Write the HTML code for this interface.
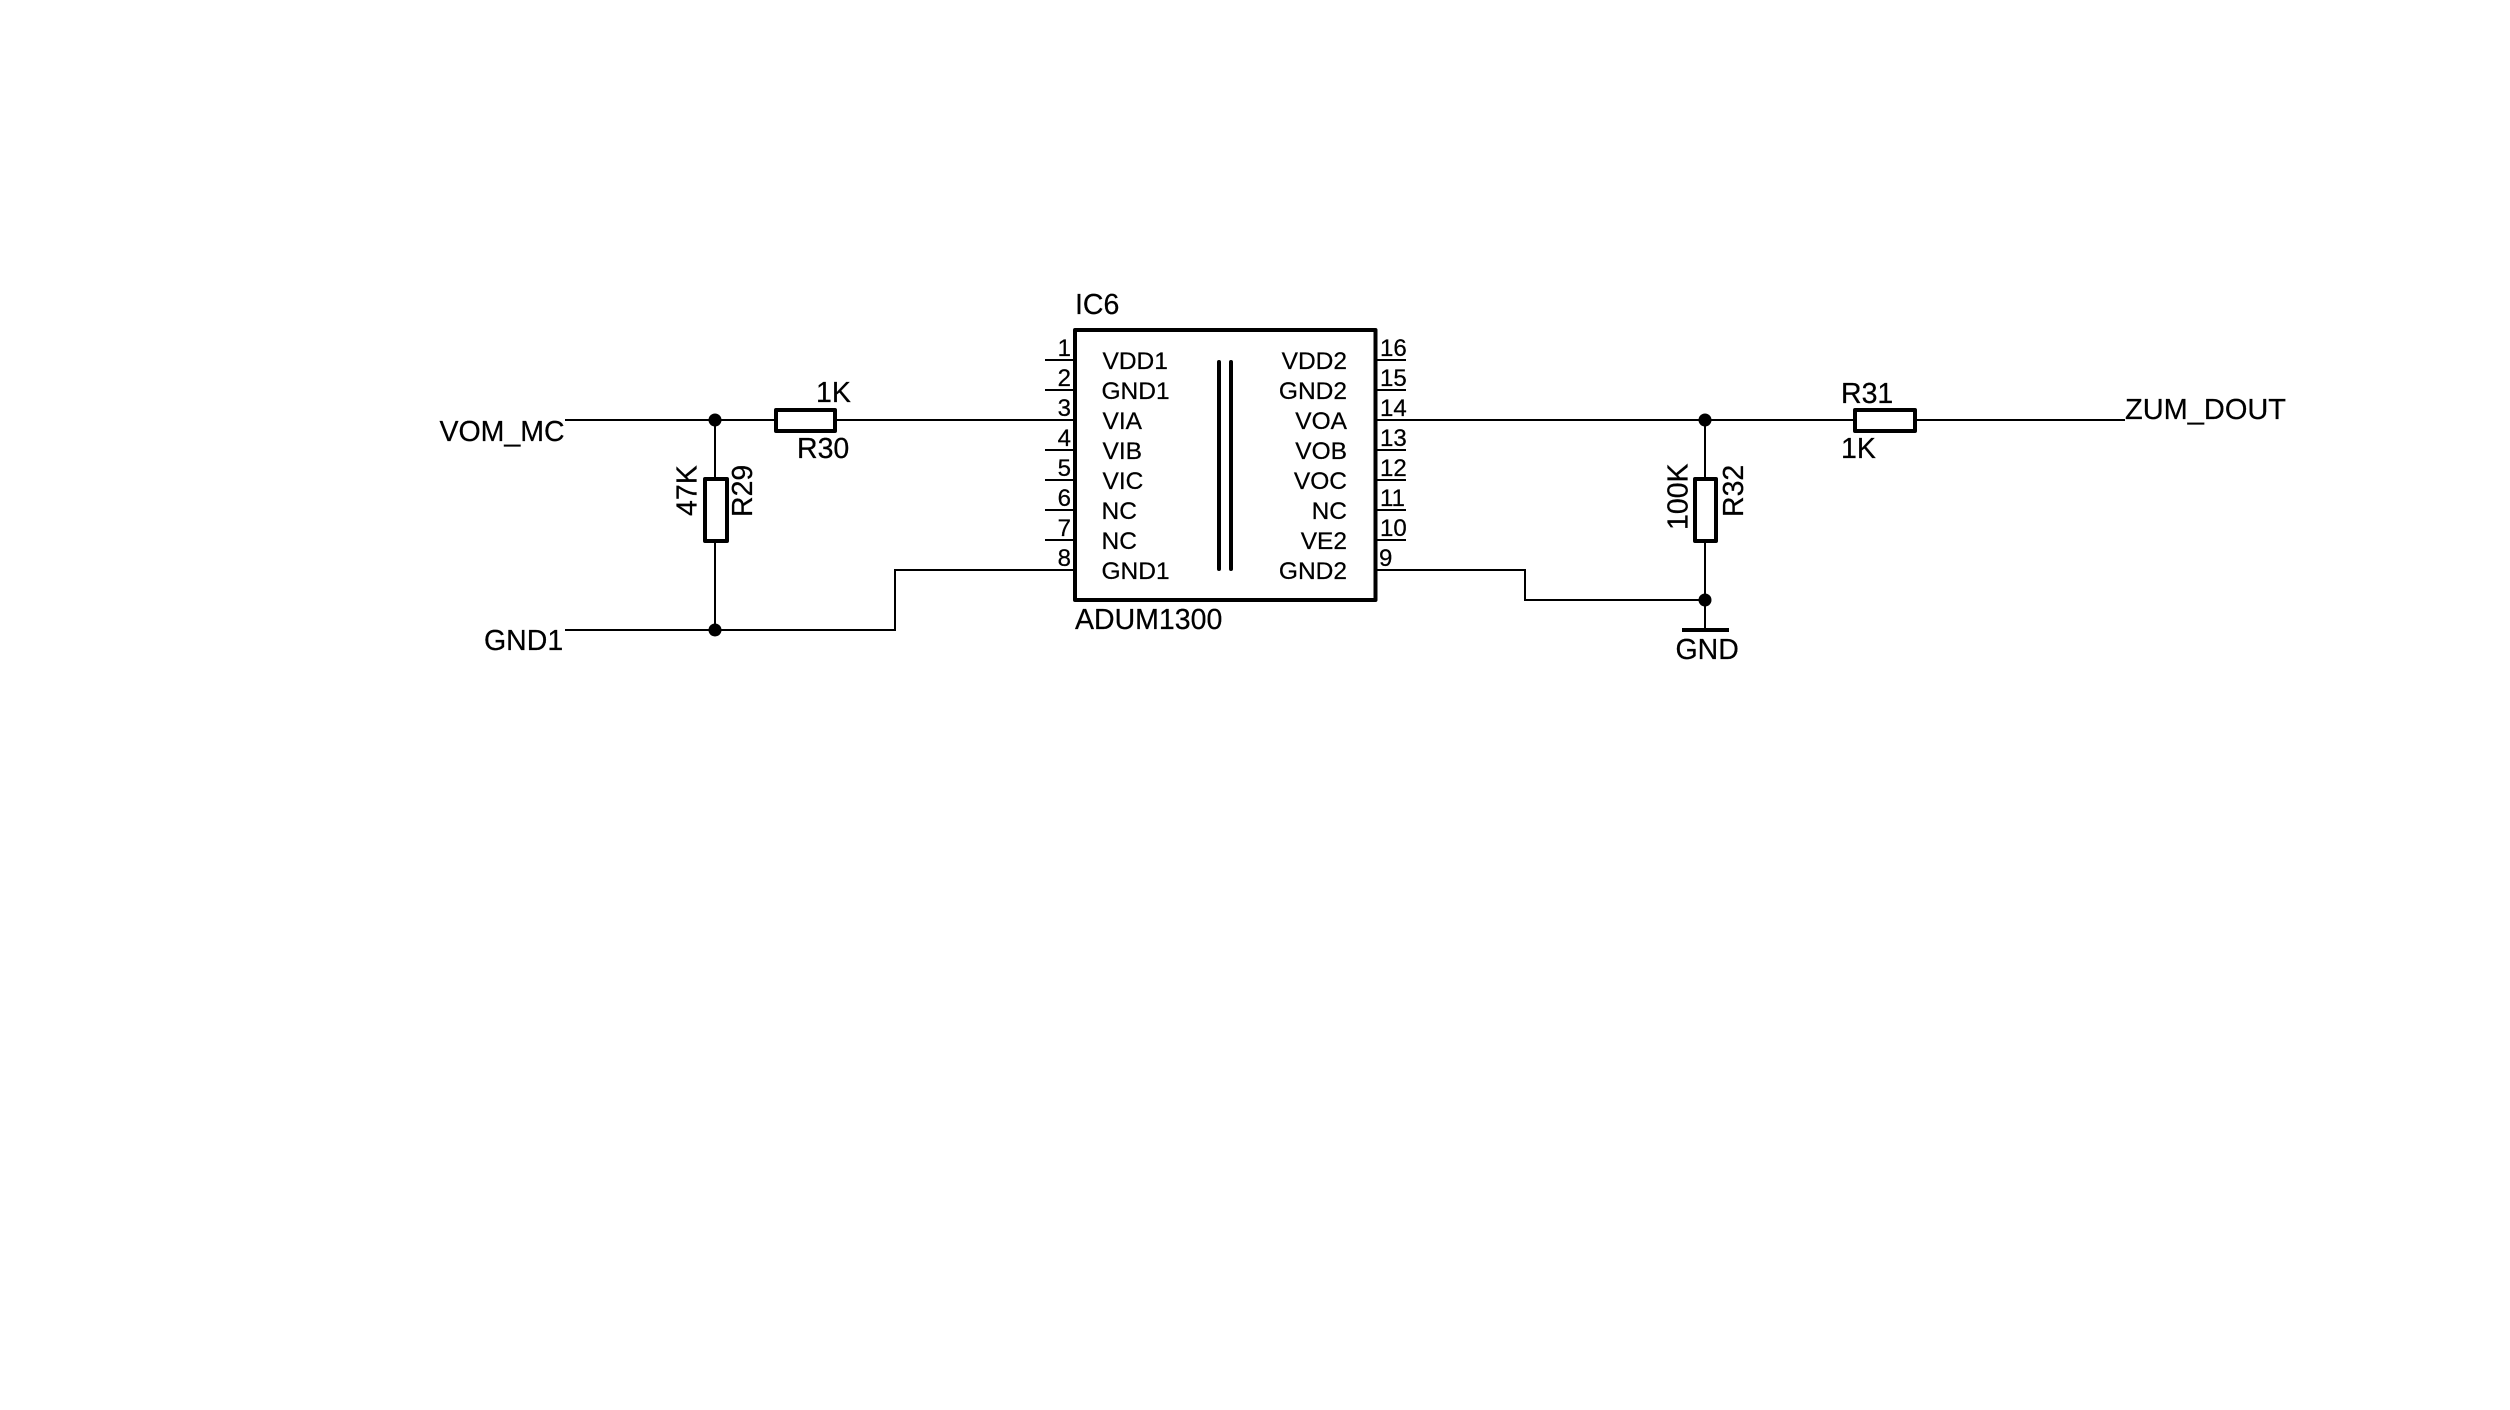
<!DOCTYPE html>
<html>
<head>
<meta charset="utf-8">
<style>
html,body{margin:0;padding:0;background:#fff;width:2510px;height:1410px;overflow:hidden}
svg{display:block}
text{font-family:"Liberation Sans",Arial,sans-serif;fill:#000;stroke:#000;stroke-width:.25;font-size:28.5px}
.s{font-size:24.5px}
.n{font-size:24px}
.l{fill:none;stroke:#000;stroke-width:2;shape-rendering:crispEdges}
.p{fill:none;stroke:#000;stroke-width:2;shape-rendering:crispEdges}
.b{fill:none;stroke:#000;stroke-width:4;stroke-linejoin:round}
</style>
</head>
<body>
<svg width="2510" height="1410" viewBox="0 0 2510 1410" xmlns="http://www.w3.org/2000/svg">
<rect width="2510" height="1410" fill="#fff"/>
<!-- wires -->
<path class="l" d="M565 420H775M836 420H1075"/>
<path class="l" d="M715 420V479M715 541V630"/>
<path class="l" d="M565 630H895V570H1075"/>
<path class="l" d="M1376 420H1854M1916 420H2125"/>
<path class="l" d="M1376 570H1525V600H1705"/>
<path class="l" d="M1705 420V479M1705 541V630"/>
<!-- pin stubs -->
<path class="p" d="M1045 360H1075M1045 390H1075M1045 450H1075M1045 480H1075M1045 510H1075M1045 540H1075"/>
<path class="p" d="M1376 360H1406M1376 390H1406M1376 450H1406M1376 480H1406M1376 510H1406M1376 540H1406"/>
<!-- IC -->
<rect class="b" x="1075" y="330" width="300.5" height="270"/>
<path d="M1219 362V569M1231 362V569" fill="none" stroke="#000" stroke-width="4" stroke-linecap="round"/>
<!-- resistors -->
<rect class="b" x="776" y="410" width="59" height="21"/>
<rect class="b" x="1855" y="410" width="60" height="21"/>
<rect class="b" x="705" y="479" width="22" height="62"/>
<rect class="b" x="1695" y="479" width="21" height="62"/>
<!-- junctions -->
<circle cx="715" cy="420" r="6.5"/>
<circle cx="715" cy="630" r="6.5"/>
<circle cx="1705" cy="420" r="6.5"/>
<circle cx="1705" cy="600" r="6.5"/>
<!-- GND bar -->
<rect x="1682" y="628" width="47" height="4"/>
<!-- net labels -->
<text x="439.5" y="441">VOM_MC</text>
<text x="484" y="650">GND1</text>
<text x="2125" y="419" textLength="161" lengthAdjust="spacingAndGlyphs">ZUM_DOUT</text>
<text x="1675.5" y="659">GND</text>
<!-- component labels -->
<text x="816" y="402">1K</text>
<text x="797" y="458">R30</text>
<text x="1841" y="403">R31</text>
<text x="1841" y="458">1K</text>
<text x="1075" y="314">IC6</text>
<text x="1075" y="629">ADUM1300</text>
<text transform="translate(696.5 516) rotate(-90)">47K</text>
<text transform="translate(752 517) rotate(-90)">R29</text>
<text transform="translate(1687.5 530) rotate(-90)">100K</text>
<text transform="translate(1743 517) rotate(-90)">R32</text>
<!-- left pin numbers -->
<g text-anchor="end">
<text class="n" x="1071" y="356">1</text>
<text class="n" x="1071" y="386">2</text>
<text class="n" x="1071" y="416">3</text>
<text class="n" x="1071" y="446">4</text>
<text class="n" x="1071" y="476">5</text>
<text class="n" x="1071" y="506">6</text>
<text class="n" x="1071" y="536">7</text>
<text class="n" x="1071" y="566">8</text>
</g>
<!-- right pin numbers -->
<text class="n" x="1380" y="356">16</text>
<text class="n" x="1380" y="386">15</text>
<text class="n" x="1380" y="416">14</text>
<text class="n" x="1380" y="446">13</text>
<text class="n" x="1380" y="476">12</text>
<text class="n" x="1380" y="506">11</text>
<text class="n" x="1380" y="536">10</text>
<text class="n" x="1379" y="566">9</text>
<!-- left pin names -->
<text class="s" x="1102.5" y="369">VDD1</text>
<text class="s" x="1101.5" y="399">GND1</text>
<text class="s" x="1102.5" y="429">VIA</text>
<text class="s" x="1102.5" y="459">VIB</text>
<text class="s" x="1102.5" y="489">VIC</text>
<text class="s" x="1101.5" y="519">NC</text>
<text class="s" x="1101.5" y="549">NC</text>
<text class="s" x="1101.5" y="579">GND1</text>
<!-- right pin names -->
<g text-anchor="end">
<text class="s" x="1347" y="369">VDD2</text>
<text class="s" x="1347" y="399">GND2</text>
<text class="s" x="1347" y="429">VOA</text>
<text class="s" x="1347" y="459">VOB</text>
<text class="s" x="1347" y="489">VOC</text>
<text class="s" x="1347" y="519">NC</text>
<text class="s" x="1347" y="549">VE2</text>
<text class="s" x="1347" y="579">GND2</text>
</g>
</svg>
</body>
</html>
